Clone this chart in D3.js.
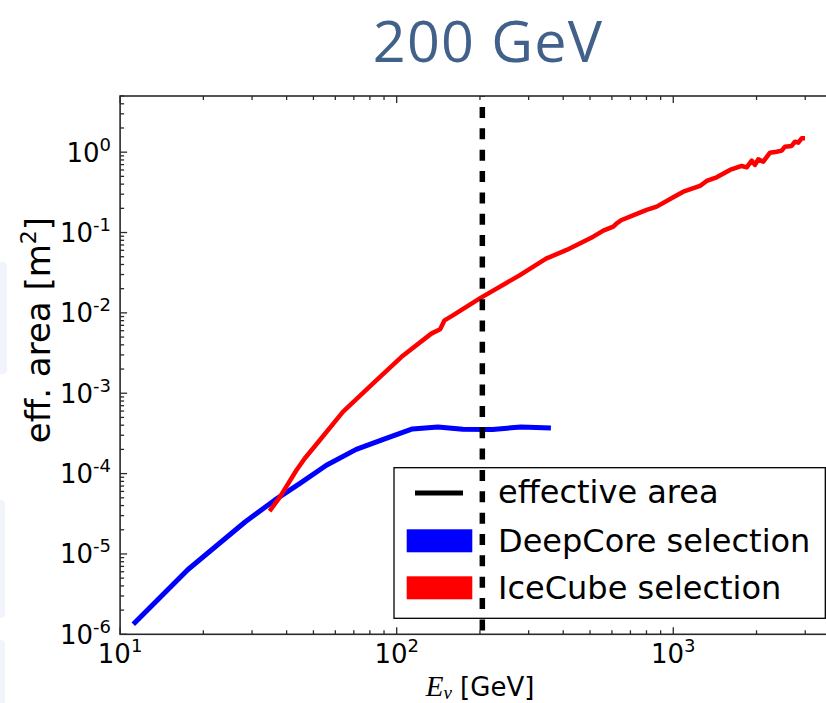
<!DOCTYPE html>
<html>
<head>
<meta charset="utf-8">
<script src="https://cdn.jsdelivr.net/npm/d3@7"></script>
<style>
  html, body { margin: 0; padding: 0; background: #ffffff; }
  svg { display: block; }
</style>
</head>
<body>
<svg id="chart" width="826" height="703"></svg>
<script>
// ---------------- data ----------------
const titleText = "200 GeV";
const xDomain = [10, 4000];
const yDomain = [1e-6, 5];
const xMajorTicks = [10, 100, 1000];
const xMajorExps = ["1", "2", "3"];
const yMajorTicks = [1e-6, 1e-5, 1e-4, 1e-3, 1e-2, 1e-1, 1];
const yMajorExps = ["-6", "-5", "-4", "-3", "-2", "-1", "0"];

const deepCoreE = [11.16, 17.6, 28.3, 36.2, 44.7, 55.7, 71.4, 89.5, 114, 141, 173.4, 222, 281.6, 361];
const deepCoreA = [1.33e-6, 6.4e-6, 2.5e-5, 4.67e-5, 7.57e-5, 1.27e-4, 2.0e-4, 2.67e-4, 3.6e-4, 3.81e-4, 3.57e-4, 3.54e-4, 3.81e-4, 3.70e-4];

const iceCubeE = [34.7, 37.8, 43.4, 46.5, 52.7, 63.9, 82.0, 103.9, 133.4, 143.6, 148.9, 159.6, 201.8, 278, 346.8, 411.8, 513.7, 558.4, 606.8, 624.3, 650.8, 697.2, 801.4, 871, 1000, 1087, 1249, 1320, 1435, 1603, 1768, 1843, 1921, 1974, 2030, 2115, 2237, 2364, 2466, 2534, 2679, 2754, 2831, 2912, 2993];
const iceCubeA = [3.41e-5, 5.1e-5, 1.1e-4, 1.54e-4, 2.6e-4, 5.85e-4, 1.32e-3, 2.82e-3, 5.52e-3, 6.25e-3, 8.07e-3, 9.3e-3, 1.55e-2, 2.93e-2, 4.73e-2, 0.0607, 0.0888, 0.1054, 0.1183, 0.1303, 0.1432, 0.1574, 0.191, 0.21, 0.275, 0.322, 0.3797, 0.4385, 0.487, 0.6004, 0.673, 0.648, 0.784, 0.693, 0.816, 0.762, 0.986, 1.014, 1.044, 1.171, 1.195, 1.351, 1.313, 1.489, 1.489];

const thresholdE = 204;

const legendLabels = ["effective area", "DeepCore selection", "IceCube selection"];
const legendColors = ["#000000", "#0000ff", "#ff0000"];

// ---------------- layout ----------------
const plot = { left: 120.1, right: 839.8, top: 96, bottom: 634.3 };
const svg = d3.select("#chart");

svg.append("rect").attr("width", 826).attr("height", 703).attr("fill", "#ffffff");

// faint slide decoration on the left edge
const deco = svg.append("g").attr("fill", "#f1f4fa");
deco.append("rect").attr("x", -6).attr("y", 262).attr("width", 13).attr("height", 112).attr("rx", 4);
deco.append("rect").attr("x", -6).attr("y", 500).attr("width", 11).attr("height", 118).attr("rx", 4);
deco.append("rect").attr("x", -6).attr("y", 640).attr("width", 11).attr("height", 70).attr("rx", 4);

const x = d3.scaleLog().domain(xDomain).range([plot.left, plot.right]);
const y = d3.scaleLog().domain(yDomain).range([plot.bottom, plot.top]);

// title
svg.append("text")
  .attr("x", 488).attr("y", 61.5)
  .attr("text-anchor", "middle")
  .attr("font-family", "'Open Sans', 'Noto Sans', sans-serif")
  .attr("font-size", 57.5)
  .attr("letter-spacing", 1.2)
  .attr("fill", "#41618a")
  .text(titleText);

// clip
svg.append("defs").append("clipPath").attr("id", "clip")
  .append("rect").attr("x", plot.left).attr("y", plot.top)
  .attr("width", plot.right - plot.left).attr("height", plot.bottom - plot.top);

const g = svg.append("g").attr("clip-path", "url(#clip)");

const line = d3.line().x(d => x(d[0])).y(d => y(d[1])).curve(d3.curveLinear);

g.append("path")
  .datum(deepCoreE.map((e, i) => [e, deepCoreA[i]]))
  .attr("d", line)
  .attr("fill", "none").attr("stroke", "#0000ff").attr("stroke-width", 5)
  .attr("stroke-linejoin", "round");

g.append("path")
  .datum(iceCubeE.map((e, i) => [e, iceCubeA[i]]))
  .attr("d", line)
  .attr("fill", "none").attr("stroke", "#ff0000").attr("stroke-width", 4.5)
  .attr("stroke-linejoin", "round");

// legend
const lg = svg.append("g");
lg.append("rect").attr("x", 394).attr("y", 467.7).attr("width", 431.3).attr("height", 150.6)
  .attr("fill", "#ffffff").attr("stroke", "#000000").attr("stroke-width", 1.3);
lg.append("line").attr("x1", 415).attr("x2", 463).attr("y1", 493).attr("y2", 493)
  .attr("stroke", legendColors[0]).attr("stroke-width", 5);
lg.append("rect").attr("x", 406.7).attr("y", 529.3).attr("width", 65.6).attr("height", 23)
  .attr("fill", legendColors[1]);
lg.append("rect").attr("x", 406.7).attr("y", 576.3).attr("width", 65.6).attr("height", 23)
  .attr("fill", legendColors[2]);
const legBase = [503.3, 551.5, 599];
legendLabels.forEach((t, i) => {
  lg.append("text").attr("x", 498).attr("y", legBase[i])
    .attr("font-family", "'DejaVu Sans', sans-serif").attr("font-size", 32)
    .attr("fill", "#000000").text(t);
});

// threshold dashed line (above legend)
svg.append("line")
  .attr("x1", x(thresholdE)).attr("x2", x(thresholdE))
  .attr("y1", plot.top).attr("y2", plot.bottom)
  .attr("stroke", "#000000").attr("stroke-width", 5.5)
  .attr("stroke-dasharray", "11,10.35").attr("stroke-dashoffset", 10.35);

// frame
const frameColor = "#2a2a2a";
svg.append("rect").attr("x", plot.left).attr("y", plot.top)
  .attr("width", plot.right - plot.left).attr("height", plot.bottom - plot.top)
  .attr("fill", "none").attr("stroke", frameColor).attr("stroke-width", 1.6);

// ticks
const majLen = 7, minLen = 4;
const xMinor = [];
for (let d = 10; d < 10000; d *= 10) for (let k = 2; k <= 9; k++) { const v = d * k; if (v <= xDomain[1]) xMinor.push(v); }
const yMinor = [];
for (let d = 1e-6; d < 10; d *= 10) for (let k = 2; k <= 9; k++) { const v = d * k; if (v <= yDomain[1]) yMinor.push(v); }

const tg = svg.append("g").attr("stroke", frameColor).attr("stroke-width", 1.3);
function xTick(v, len) {
  tg.append("line").attr("x1", x(v)).attr("x2", x(v)).attr("y1", plot.bottom).attr("y2", plot.bottom - len);
  tg.append("line").attr("x1", x(v)).attr("x2", x(v)).attr("y1", plot.top).attr("y2", plot.top + len);
}
function yTick(v, len) {
  tg.append("line").attr("y1", y(v)).attr("y2", y(v)).attr("x1", plot.left).attr("x2", plot.left + len);
  tg.append("line").attr("y1", y(v)).attr("y2", y(v)).attr("x1", plot.right).attr("x2", plot.right - len);
}
xMajorTicks.forEach(v => xTick(v, majLen));
xMinor.forEach(v => xTick(v, minLen));
yMajorTicks.forEach(v => yTick(v, majLen));
yMinor.forEach(v => yTick(v, minLen));

// tick labels
const font = "'DejaVu Sans', sans-serif";
xMajorTicks.forEach((v, i) => {
  const t = svg.append("text").attr("x", x(v)).attr("y", 662.7)
    .attr("text-anchor", "middle").attr("font-family", font).attr("font-size", 26).attr("fill", "#000");
  t.append("tspan").text("10");
  t.append("tspan").attr("dy", -11).attr("font-size", 18).text(xMajorExps[i]);
});
yMajorTicks.forEach((v, i) => {
  const t = svg.append("text").attr("x", 111).attr("y", y(v) + 9.5)
    .attr("text-anchor", "end").attr("font-family", font).attr("font-size", 26).attr("fill", "#000");
  t.append("tspan").text("10");
  t.append("tspan").attr("dy", -11).attr("font-size", 18).text(yMajorExps[i]);
});

// axis labels
const xl = svg.append("text").attr("x", 480).attr("y", 696)
  .attr("text-anchor", "middle").attr("font-family", font).attr("font-size", 26).attr("fill", "#000");
xl.append("tspan").attr("font-family", "'Liberation Serif', 'DejaVu Serif', serif").attr("font-style", "italic").attr("font-size", 29).text("E");
xl.append("tspan").attr("font-family", "'Liberation Serif', 'DejaVu Serif', serif").attr("font-style", "italic").attr("font-size", 19).attr("dy", 3).text("ν");
xl.append("tspan").attr("dy", -3).text(" [GeV]");

const yl = svg.append("text").attr("transform", "translate(50,330) rotate(-90)")
  .attr("text-anchor", "middle").attr("font-family", font).attr("font-size", 34).attr("fill", "#000");
yl.append("tspan").text("eff. area [m");
yl.append("tspan").attr("dy", -14).attr("font-size", 22).text("2");
yl.append("tspan").attr("dy", 14).text("]");
</script>
</body>
</html>
